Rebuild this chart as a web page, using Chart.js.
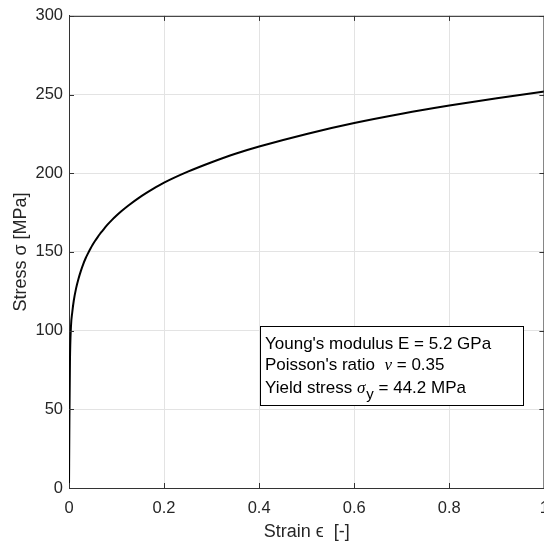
<!DOCTYPE html>
<html>
<head>
<meta charset="utf-8">
<script src="https://cdn.jsdelivr.net/npm/chart.js@4/dist/chart.umd.min.js"></script>
<style>
  html, body { margin: 0; padding: 0; background: #ffffff; overflow: hidden; }
  canvas { display: block; }
</style>
</head>
<body>
<canvas id="c" width="560" height="543"></canvas>
<script>
// ---- data ----
const strain = [0, 0.0009, 0.002, 0.004, 0.007, 0.01, 0.015, 0.02, 0.025, 0.03, 0.035, 0.04, 0.045, 0.05, 0.055, 0.06, 0.065, 0.07, 0.08, 0.09, 0.1, 0.11, 0.125, 0.15, 0.175, 0.2, 0.25, 0.3, 0.35, 0.4, 0.5, 0.6, 0.7, 0.8, 0.9, 1.0];
const stress = [0, 44, 80, 102, 112, 119, 127, 133, 138, 142.3, 146, 149.1, 152, 154.7, 157.1, 159.3, 161.4, 163.3, 167, 170.2, 173.1, 175.8, 179.5, 185, 189.7, 194, 201, 207, 212.4, 217, 225, 231.9, 237.8, 243, 247.7, 252];
const xTickLabels = ['0', '0.2', '0.4', '0.6', '0.8', '1'];
const yTickLabels = ['0', '50', '100', '150', '200', '250', '300'];
const xTitle = 'Strain \u03F5  [-]';
const yTitle = 'Stress \u03C3 [MPa]';
const boxLines = [
  ["Young's modulus E = 5.2 GPa"],
  ["Poisson's ratio  ", "\u03BD", " = 0.35"],
  ["Yield stress ", "\u03C3", "y", " = 44.2 MPa"]
];

const SANS = '"Liberation Sans", Arial, sans-serif';
const SERIF = '"Liberation Serif", "Times New Roman", serif';
const TXT = '#262626';
const GRID = '#e3e3e3';
const AXIS = '#333333';

const points = strain.map((x, i) => ({ x: x, y: stress[i] }));

const frameAndTicks = {
  id: 'frameAndTicks',
  afterDatasetsDraw(chart) {
    const { ctx, chartArea: a, scales: { x, y } } = chart;
    ctx.save();
    ctx.strokeStyle = AXIS;
    ctx.lineWidth = 1;
    ctx.beginPath();
    ctx.moveTo(a.left, a.top + 0.5); ctx.lineTo(a.right, a.top + 0.5);
    ctx.moveTo(a.right - 0.5, a.top); ctx.lineTo(a.right - 0.5, a.bottom);
    ctx.stroke();
    const L = 5;
    ctx.beginPath();
    x.ticks.forEach(t => {
      const px = Math.round(x.getPixelForValue(t.value)) + 0.5;
      ctx.moveTo(px, a.bottom); ctx.lineTo(px, a.bottom - L);
      ctx.moveTo(px, a.top); ctx.lineTo(px, a.top + L);
    });
    y.ticks.forEach(t => {
      const py = Math.round(y.getPixelForValue(t.value)) + 0.5;
      ctx.moveTo(a.left, py); ctx.lineTo(a.left + L, py);
      ctx.moveTo(a.right, py); ctx.lineTo(a.right - L, py);
    });
    ctx.stroke();
    ctx.restore();
  }
};

const textBox = {
  id: 'textBox',
  afterDraw(chart) {
    const { ctx, scales: { x, y } } = chart;
    const left = Math.round(x.getPixelForValue(0.402)) + 0.5;
    const right = Math.round(x.getPixelForValue(0.954)) + 0.5;
    const top = Math.round(y.getPixelForValue(103.2)) + 0.5;
    const bottom = Math.round(y.getPixelForValue(52.5)) + 0.5;
    ctx.save();
    ctx.fillStyle = '#ffffff';
    ctx.fillRect(left, top, right - left, bottom - top);
    ctx.strokeStyle = '#000000';
    ctx.lineWidth = 1;
    ctx.strokeRect(left, top, right - left, bottom - top);
    ctx.fillStyle = '#000000';
    ctx.textBaseline = 'alphabetic';
    ctx.textAlign = 'left';
    const tx = left + 4.5;
    const baselines = [top + 22, top + 43, top + 66];
    ctx.font = '17px ' + SANS;
    ctx.fillText(boxLines[0][0], tx, baselines[0]);
    let cx = tx;
    ctx.font = '17px ' + SANS;
    ctx.fillText(boxLines[1][0], cx, baselines[1]);
    cx += ctx.measureText(boxLines[1][0]).width;
    ctx.font = 'italic 17px ' + SERIF;
    ctx.fillText(boxLines[1][1], cx, baselines[1]);
    cx += ctx.measureText(boxLines[1][1]).width;
    ctx.font = '17px ' + SANS;
    ctx.fillText(boxLines[1][2], cx, baselines[1]);
    cx = tx;
    ctx.fillText(boxLines[2][0], cx, baselines[2]);
    cx += ctx.measureText(boxLines[2][0]).width;
    ctx.font = 'italic 17px ' + SERIF;
    ctx.fillText(boxLines[2][1], cx, baselines[2]);
    cx += ctx.measureText(boxLines[2][1]).width + 1;
    ctx.font = '15px ' + SANS;
    ctx.fillText(boxLines[2][2], cx, baselines[2] + 6);
    cx += ctx.measureText(boxLines[2][2]).width;
    ctx.font = '17px ' + SANS;
    ctx.fillText(boxLines[2][3], cx, baselines[2]);
    ctx.restore();
  }
};

new Chart(document.getElementById('c'), {
  type: 'line',
  data: {
    datasets: [{
      data: points,
      borderColor: '#000000',
      borderWidth: 2,
      pointRadius: 0,
      fill: false,
      cubicInterpolationMode: 'monotone'
    }]
  },
  options: {
    responsive: false,
    animation: false,
    events: [],
    layout: { padding: { left: 0, right: 14, top: 14, bottom: 0 } },
    plugins: { legend: { display: false }, tooltip: { enabled: false } },
    scales: {
      x: {
        type: 'linear',
        min: 0, max: 1,
        ticks: {
          stepSize: 0.2,
          maxRotation: 0,
          padding: 11,
          color: TXT,
          font: { size: 16.5, family: SANS },
          callback: (v, i) => xTickLabels[i]
        },
        grid: { color: GRID, drawTicks: false, lineWidth: 1 },
        border: { color: AXIS, width: 1 },
        title: {
          display: true, text: xTitle, color: TXT,
          font: { size: 18, family: SANS },
          padding: { top: 0, bottom: 0 }
        },
        afterFit: s => { s.height = 55; }
      },
      y: {
        type: 'linear',
        min: 0, max: 300,
        ticks: {
          stepSize: 50,
          padding: 6,
          color: TXT,
          font: { size: 16.5, family: SANS },
          callback: (v, i) => yTickLabels[i]
        },
        grid: { color: GRID, drawTicks: false, lineWidth: 1 },
        border: { color: AXIS, width: 1 },
        title: {
          display: true, text: yTitle, color: TXT,
          font: { size: 18, family: SANS },
          padding: { top: 10, bottom: 0 }
        },
        afterFit: s => { s.width = 69; }
      }
    }
  },
  plugins: [frameAndTicks, textBox]
});
</script>
</body>
</html>
